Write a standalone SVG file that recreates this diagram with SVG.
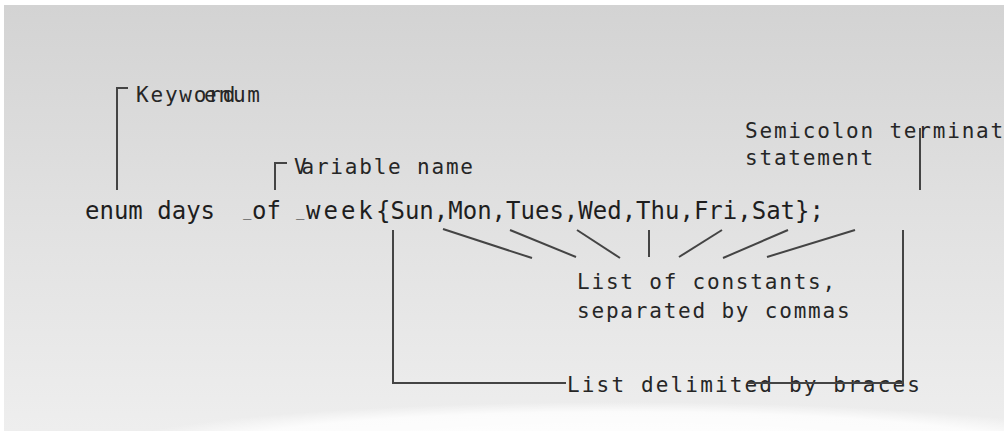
<svg xmlns="http://www.w3.org/2000/svg" width="1007" height="432" viewBox="0 0 1007 432">
<defs>
<linearGradient id="bg" x1="0" y1="0" x2="0" y2="1">
<stop offset="0" stop-color="#d3d3d3"/>
<stop offset="0.5" stop-color="#e1e1e1"/>
<stop offset="1" stop-color="#eeeeee"/>
</linearGradient>
<radialGradient id="glow" cx="0.5" cy="0.5" r="0.5">
<stop offset="0" stop-color="#ffffff" stop-opacity="1"/>
<stop offset="0.8" stop-color="#ffffff" stop-opacity="0.8"/>
<stop offset="1" stop-color="#ffffff" stop-opacity="0"/>
</radialGradient>
<style>
.code{font-family:"DejaVu Sans Mono","Liberation Mono",monospace;font-size:24px;fill:#1e1e1e}
.us{font-size:14px}
.lbl{font-family:"DejaVu Sans Mono","Liberation Mono",monospace;font-size:21px;letter-spacing:1.8px;fill:#262626}
.ln{stroke:#444;stroke-width:2;fill:none}
</style>
</defs>
<rect x="0" y="0" width="1007" height="432" fill="#ffffff"/>
<rect x="4" y="5" width="1000" height="426" fill="url(#bg)"/>
<ellipse cx="620" cy="452" rx="520" ry="50" fill="url(#glow)"/>
<g id="code">
<text class="code" y="219"><tspan x="85" y="219">enum days</tspan><tspan x="243" y="216" class="us">_</tspan><tspan x="252" y="219">of</tspan><tspan x="296" y="216" class="us">_</tspan><tspan x="306" y="219" style="letter-spacing:3px">week</tspan><tspan x="376" y="219">{Sun,Mon,Tues,Wed,Thu,Fri,Sat};</tspan></text>
</g>
<g id="keyword">
<text class="lbl" x="136" y="102">Keyword</text>
<text class="lbl" x="204" y="102">enum</text>
</g>
<g id="varname">
<text class="lbl" x="294" y="174">V<tspan dx="-7">ariable name</tspan></text>
</g>
<g id="semicolon">
<text class="lbl" x="745" y="138">Semicolon terminat</text>
<text class="lbl" x="745" y="165">statement</text>
</g>
<g id="constants">
<text class="lbl" x="577" y="289">List of constants,</text>
<text class="lbl" x="577" y="318">separated by commas</text>
</g>
<g id="braces">
<text class="lbl" x="567" y="392" style="letter-spacing:2.15px">List delimited by braces</text>
</g>
<g id="connectors">
<path class="ln" d="M128 88 H117 V190"/>
<path class="ln" d="M287 163 H275 V190"/>
<path class="ln" d="M920 128 V190"/>
<path class="ln" d="M393 230 V383 H566"/>
<path class="ln" d="M748 383 H903 V230"/>
<line class="ln" x1="443" y1="229" x2="532" y2="258"/>
<line class="ln" x1="510" y1="230" x2="576" y2="257"/>
<line class="ln" x1="577" y1="230" x2="620" y2="258"/>
<line class="ln" x1="649" y1="230" x2="649" y2="257"/>
<line class="ln" x1="722" y1="230" x2="679" y2="257"/>
<line class="ln" x1="788" y1="230" x2="723" y2="258"/>
<line class="ln" x1="855" y1="230" x2="767" y2="257"/>
</g>
</svg>
